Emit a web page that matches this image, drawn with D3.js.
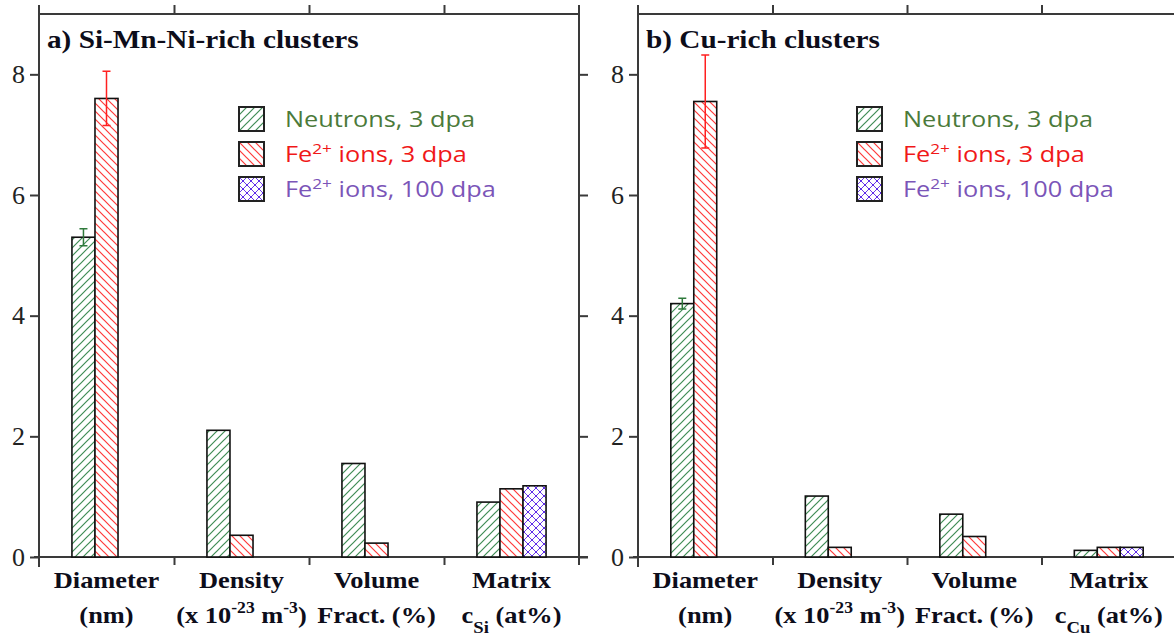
<!DOCTYPE html>
<html>
<head>
<meta charset="utf-8">
<script src="https://cdn.jsdelivr.net/npm/d3@7"></script>
<style>
  html, body { margin: 0; padding: 0; background: #fff; }
  svg { display: block; }
  .tick text { font-family: "Liberation Serif", serif; font-size: 26px; fill: #222; }
  .tick line { stroke: #3a3a3a; stroke-width: 2; }
  .frame { stroke: #3a3a3a; stroke-width: 2; fill: none; }
  .title, .cat { font-family: "Liberation Serif", serif; font-weight: bold; fill: #0d0d1a; }
  .legend text { font-family: "Open Sans", sans-serif; font-size: 22px; }
</style>
</head>
<body>
<div id="chart"></div>
<script>
// ---- data ----
var categories = ['Diameter', 'Density', 'Volume', 'Matrix'];
var series_names = ['Neutrons, 3 dpa', 'Fe2+ ions, 3 dpa', 'Fe2+ ions, 100 dpa'];
var y_ticks = [0, 2, 4, 6, 8];

// a) Si-Mn-Ni-rich clusters
var neutrons_a = [5.3, 2.1, 1.55, 0.91];
var ions3_a = [7.6, 0.36, 0.23, 1.13];
var ions100_a = [null, null, null, 1.18];
var neutrons_err_a = [0.14, 0, 0, 0];
var ions3_err_a = [0.45, 0, 0, 0];

// b) Cu-rich clusters
var neutrons_b = [4.2, 1.01, 0.71, 0.11];
var ions3_b = [7.55, 0.16, 0.34, 0.16];
var ions100_b = [null, null, null, 0.16];
var neutrons_err_b = [0.09, 0, 0, 0];
var ions3_err_b = [0.77, 0, 0, 0];

var WIDTH = 1174, HEIGHT = 637;
var TOP = 14, BOTTOM = 557;

var svg = d3.select('#chart').append('svg')
    .attr('width', WIDTH)
    .attr('height', HEIGHT);

var defs = svg.append('defs');

function AddPattern(id, color, paths, width, dots) {
  var p = defs.append('pattern')
      .attr('id', id)
      .attr('patternUnits', 'userSpaceOnUse')
      .attr('width', 8)
      .attr('height', 8);
  p.append('rect').attr('width', 8).attr('height', 8).attr('fill', '#fff');
  p.append('path')
      .attr('d', paths)
      .attr('stroke', color)
      .attr('stroke-width', width)
      .attr('fill', 'none');
  if (dots) {
    [[4, 4], [0, 0], [8, 0], [0, 8], [8, 8]].forEach(function(c) {
      p.append('circle').attr('cx', c[0]).attr('cy', c[1]).attr('r', 1.1).attr('fill', color);
    });
  }
}

var FWD = 'M-2,2 L2,-2 M0,8 L8,0 M6,10 L10,6';
var BACK = 'M-2,6 L2,10 M0,0 L8,8 M6,-2 L10,2';
AddPattern('hatch-green', '#3f8c55', FWD, 1.2, false);
AddPattern('hatch-red', '#ff3a3a', BACK, 1.2, false);
AddPattern('hatch-purple', '#5a26e8', FWD + ' ' + BACK, 0.9, true);

var fills = ['url(#hatch-green)', 'url(#hatch-red)', 'url(#hatch-purple)'];
var err_colors = ['#2f7a3c', '#ff2020'];
var legend_colors = ['#4b7a3a', '#f01818', '#7b55b8'];

var y = d3.scaleLinear().domain([0, 9]).range([BOTTOM, TOP]);

function DrawPanel(opts) {
  var g = svg.append('g');
  var x0 = opts.x0, x1 = opts.x1;

  var x = d3.scaleBand().domain(categories).range([x0, x1]);
  var xs = d3.scaleBand().domain([0, 1, 2])
      .range([0, x.bandwidth()])
      .paddingOuter(1.43);
  // category boundaries for the top/bottom ticks
  var edges = d3.scaleLinear().domain([0, categories.length]).range([x0, x1]);

  // y axes, left with labels, right mirrored
  var left = g.append('g')
      .attr('transform', 'translate(' + x0 + ',0)')
      .call(d3.axisLeft(y).tickValues(y_ticks).tickSize(9).tickSizeOuter(0).tickPadding(5));
  left.select('.domain').remove();

  var right = g.append('g')
      .attr('transform', 'translate(' + x1 + ',0)')
      .call(d3.axisRight(y).tickValues(y_ticks).tickSize(9).tickSizeOuter(0).tickFormat(''));
  right.select('.domain').remove();

  var top = g.append('g')
      .attr('transform', 'translate(0,' + TOP + ')')
      .call(d3.axisTop(edges).tickValues([1, 2, 3]).tickSize(9).tickSizeOuter(0).tickFormat(''));
  top.select('.domain').remove();

  var bottom = g.append('g')
      .attr('transform', 'translate(0,' + BOTTOM + ')')
      .call(d3.axisBottom(edges).tickValues([1, 2, 3]).tickSize(8).tickSizeOuter(0).tickFormat(''));
  bottom.select('.domain').remove();

  // frame
  g.append('path').attr('class', 'frame')
      .attr('d', 'M' + x0 + ',' + (TOP - 9) + 'V' + (BOTTOM + 10) +
                 'M' + x1 + ',' + (TOP - 9) + 'V' + (BOTTOM + 8) +
                 'M' + x0 + ',' + TOP + 'H' + x1 +
                 'M' + (x0 - 5) + ',' + BOTTOM + 'H' + (x1 + 9));

  // bars
  var rows = [];
  opts.series.forEach(function(vals, si) {
    vals.forEach(function(v, ci) {
      if (v == null) return;
      rows.push({cat: categories[ci], s: si, v: v, err: (opts.errs[si] || [])[ci] || 0});
    });
  });

  g.append('g').selectAll('rect').data(rows).enter().append('rect')
      .attr('x', function(d) { return x(d.cat) + xs(d.s); })
      .attr('y', function(d) { return y(d.v); })
      .attr('width', xs.bandwidth())
      .attr('height', function(d) { return y(0) - y(d.v); })
      .attr('fill', function(d) { return fills[d.s]; })
      .attr('stroke', '#111')
      .attr('stroke-width', 1.6);

  // error bars
  var eb = g.append('g').selectAll('g').data(rows.filter(function(d) { return d.err > 0; }))
      .enter().append('g')
      .attr('stroke', function(d) { return err_colors[d.s]; })
      .attr('stroke-width', 1.5);
  eb.append('path').attr('d', function(d) {
    var cx = x(d.cat) + xs(d.s) + xs.bandwidth() / 2;
    var a = y(d.v + d.err), b = y(d.v - d.err);
    return 'M' + cx + ',' + a + 'V' + b +
           'M' + (cx - 4) + ',' + a + 'H' + (cx + 4) +
           'M' + (cx - 4) + ',' + b + 'H' + (cx + 4);
  });

  // title (the source picture is stretched sideways a little)
  g.append('text').attr('class', 'title')
      .attr('transform', 'translate(' + (x0 + 8) + ',48) scale(1.17,1)')
      .style('font-size', '25px')
      .text(opts.title);

  // category labels, two lines
  g.append('g').selectAll('text').data(categories).enter().append('text')
      .attr('class', 'cat')
      .attr('text-anchor', 'middle')
      .style('font-size', '24px')
      .attr('transform', function(d) {
        return 'translate(' + (x(d) + x.bandwidth() / 2) + ',588) scale(1.1,1)';
      })
      .text(function(d) { return d; });

  var second = g.append('g').selectAll('text').data(categories).enter().append('text')
      .attr('class', 'cat')
      .attr('text-anchor', 'middle')
      .style('font-size', '24px')
      .attr('transform', function(d) {
        return 'translate(' + (x(d) + x.bandwidth() / 2) + ',623) scale(1.1,1)';
      });
  second.each(function(d, i) {
    var t = d3.select(this);
    if (i == 0) {
      t.text('(nm)');
    } else if (i == 1) {
      t.append('tspan').text('(x 10');
      t.append('tspan').attr('dy', -10).style('font-size', '16px').text('-23');
      t.append('tspan').attr('dy', 10).text(' m');
      t.append('tspan').attr('dy', -10).style('font-size', '16px').text('-3');
      t.append('tspan').attr('dy', 10).text(')');
    } else if (i == 2) {
      t.text('Fract. (%)');
    } else {
      t.append('tspan').text('c');
      t.append('tspan').attr('dy', 10).style('font-size', '17px').text(opts.element);
      t.append('tspan').attr('dy', -10).text(' (at%)');
    }
  });

  // legend
  var lg = g.append('g').attr('class', 'legend')
      .attr('transform', 'translate(' + (x0 + opts.legend_dx) + ',107)');
  var item = lg.selectAll('g').data(series_names).enter().append('g')
      .attr('transform', function(d, i) { return 'translate(0,' + (i * 35) + ')'; });
  item.append('rect')
      .attr('width', 25).attr('height', 24)
      .attr('fill', function(d, i) { return fills[i]; })
      .attr('stroke', '#222').attr('stroke-width', 2);
  item.append('text')
      .attr('transform', 'translate(46,20) scale(1.15,1)')
      .attr('fill', function(d, i) { return legend_colors[i]; })
      .each(function(d, i) {
        var t = d3.select(this);
        if (i == 0) { t.text(d); return; }
        t.append('tspan').text('Fe');
        t.append('tspan').attr('dy', -8).style('font-size', '15px').text('2+');
        t.append('tspan').attr('dy', 8).text(d.replace('Fe2+', ''));
      });
}

DrawPanel({
  x0: 39, x1: 579,
  title: 'a) Si-Mn-Ni-rich clusters',
  element: 'Si',
  series: [neutrons_a, ions3_a, ions100_a],
  errs: [neutrons_err_a, ions3_err_a],
  legend_dx: 200
});

DrawPanel({
  x0: 638, x1: 1176,
  title: 'b) Cu-rich clusters',
  element: 'Cu',
  series: [neutrons_b, ions3_b, ions100_b],
  errs: [neutrons_err_b, ions3_err_b],
  legend_dx: 219
});
</script>
</body>
</html>
